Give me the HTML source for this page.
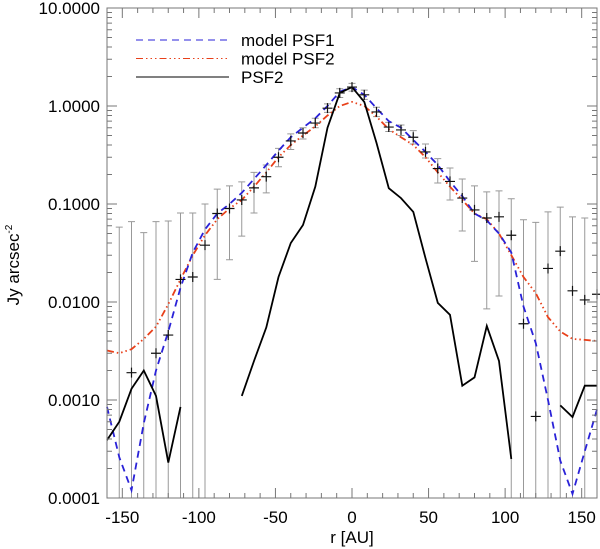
<!DOCTYPE html>
<html><head><meta charset="utf-8"><style>
html,body{margin:0;padding:0;background:#fff;}
svg{display:block;font-family:"Liberation Sans",sans-serif;}
</style></head><body>
<svg id="chart" width="600" height="549" viewBox="0 0 600 549">
<g id="err"></g>
<g id="series"></g>
<g id="axes"></g>
<g id="legend"></g>
<text x="352" y="543" text-anchor="middle" font-size="17">r [AU]</text>
<text transform="translate(19,265) rotate(-90)" text-anchor="middle" font-size="17">Jy arcsec<tspan font-size="10" dy="-7">-2</tspan></text>
</svg>
<script>
const radii = [-160,-152,-144,-136,-128,-120,-112,-104,-96,-88,-80,-72,-64,-56,-48,-40,-32,-24,-16,-8,0,8,16,24,32,40,48,56,64,72,80,88,96,104,112,120,128,136,144,152,160];
const dataVals = [null,null,0.0019,null,0.003,0.0046,0.017,0.018,0.038,0.08,0.09,0.11,0.146,0.19,0.30,0.44,0.53,0.67,0.95,1.36,1.56,1.3,0.87,0.61,0.57,0.48,0.34,0.23,0.17,0.115,0.087,0.072,0.074,0.048,0.006,0.00068,0.022,0.033,0.013,0.0105,0.012];
const errHigh = [null,0.058,0.066,0.051,0.066,0.067,0.081,0.081,0.1,0.142,0.153,0.168,0.21,0.25,0.37,0.52,0.6,0.75,1.05,1.5,1.7,1.45,0.97,0.68,0.64,0.56,0.41,0.29,0.233,0.18,0.153,0.133,0.136,0.113,0.069,0.065,0.083,0.093,0.074,0.072,null];
const errLow = [null,0.0001,0.0001,0.0001,0.0001,0.0001,0.0001,0.0001,0.0001,0.017,0.027,0.047,0.081,0.13,0.24,0.36,0.46,0.6,0.86,1.22,1.42,1.17,0.78,0.55,0.5,0.41,0.295,0.164,0.11,0.053,0.026,0.0085,0.0115,0.0001,0.0001,0.0001,0.0001,0.0001,0.0001,0.0001,null];
const psf1Model = [0.00085,0.00026,0.00012,0.00058,0.002,0.005,0.014,0.032,0.055,0.08,0.1,0.13,0.18,0.25,0.35,0.48,0.6,0.75,1.0,1.4,1.56,1.3,0.95,0.7,0.6,0.45,0.34,0.25,0.17,0.12,0.08,0.068,0.05,0.032,0.009,0.0038,0.001,0.00024,0.00011,0.0003,0.0008];
const psf2Model = [0.0032,0.003,0.0033,0.0042,0.0056,0.0095,0.017,0.03,0.048,0.07,0.09,0.11,0.15,0.21,0.3,0.4,0.5,0.62,0.8,1.0,1.1,1.0,0.78,0.58,0.48,0.4,0.3,0.21,0.15,0.11,0.08,0.07,0.05,0.03,0.018,0.0123,0.007,0.005,0.0042,0.0041,0.004];
const psf2Obs = [0.00039,0.0006,0.0013,0.002,0.0011,0.00023,0.00085,null,null,null,null,0.0011,0.0025,0.0055,0.018,0.04,0.061,0.15,0.6,1.36,1.56,1.1,0.42,0.145,0.115,0.083,0.028,0.0098,0.0074,0.0014,0.0017,0.0057,0.0025,0.00025,null,null,null,0.00088,0.00067,0.0014,0.0014];
const xTicks = [-150,-100,-50,0,50,100,150];
const yTicks = [10,1,0.1,0.01,0.001,0.0001];
const yTickLabels = ["10.0000","1.0000","0.1000","0.0100","0.0010","0.0001"];
const legendLabels = ["model PSF1","model PSF2","PSF2"];

const L=107,R=597,T=8,B=498,xmin=-160,xmax=160,lmin=-4,lmax=1;
const X=r=>L+(r-xmin)/(xmax-xmin)*(R-L);
const Y=v=>B-(Math.log10(v)-lmin)/(lmax-lmin)*(B-T);
const NS="http://www.w3.org/2000/svg";
function mk(tag,attrs,parent){const e=document.createElementNS(NS,tag);for(const k in attrs)e.setAttribute(k,attrs[k]);parent.appendChild(e);return e;}

const gErr=document.getElementById('err');
radii.forEach((r,i)=>{
  if(errHigh[i]==null)return;
  const x=X(r),y1=Y(errHigh[i]),y2=Math.min(B,Y(errLow[i]));
  const eb=mk('path',{d:`M${x},${y1}V${y2}M${x-3.5},${y1}H${x+3.5}`+(y2<B-1?`M${x-3.5},${y2}H${x+3.5}`:''),stroke:'#999',fill:'none','stroke-width':1},gErr);
  
  
});

const gS=document.getElementById('series');
function line(vals,style,name){
  let d='',pen=false;
  radii.forEach((r,i)=>{const v=vals[i];if(v==null){pen=false;return;}
    const y=Math.max(T,Math.min(B,Y(v)));d+=(pen?'L':'M')+X(r).toFixed(1)+','+y.toFixed(1);pen=true;});
  const p=mk('path',Object.assign({d,fill:'none'},style),gS);
  
  
}
line(psf2Model,{stroke:'#e8401a','stroke-width':1.8,'stroke-dasharray':'7 3 1.5 3 1.5 3 1.5 3'},'model-psf2-line');
line(psf1Model,{stroke:'#2a22d8','stroke-width':1.8,'stroke-dasharray':'7 5'},'model-psf1-line');
line(psf2Obs,{stroke:'#000','stroke-width':1.8},'psf2-line');
radii.forEach((r,i)=>{const v=dataVals[i];if(v==null)return;const x=X(r),y=Y(v);
  const c=mk('path',{d:`M${x-5},${y}H${x+5}M${x},${y-5}V${y+5}`,stroke:'#111','stroke-width':1.2},gS);
  
  
});

const gA=document.getElementById('axes');
const fr=mk('rect',{x:L,y:T,width:R-L,height:B-T,fill:'none',stroke:'#777','stroke-width':1},gA);


let td='';
for(let r=-160;r<=160;r+=10){const x=X(r);const len=(r%50===0)?10:5;td+=`M${x},${B}v${-len}M${x},${T}v${len}`;}
for(let e=lmin;e<lmax;e++){for(let m=1;m<10;m++){const y=Y(m*Math.pow(10,e));const len=m===1?10:5;td+=`M${L},${y}h${len}M${R},${y}h${-len}`;}}
const tk=mk('path',{d:td,stroke:'#777','stroke-width':1,fill:'none'},gA);


xTicks.forEach(t=>{const e=mk('text',{x:X(t),y:523,'text-anchor':'middle','font-size':17},gA);e.textContent=String(t);
  
  });
yTicks.forEach((t,i)=>{const e=mk('text',{x:100,y:Y(t)+6,'text-anchor':'end','font-size':17},gA);e.textContent=yTickLabels[i];
  
  });

const gL=document.getElementById('legend');
const lstyles=[{stroke:'#2a22d8','stroke-dasharray':'7 5'},{stroke:'#e8401a','stroke-dasharray':'7 3 1.5 3 1.5 3 1.5 3'},{stroke:'#000'}];
legendLabels.forEach((lab,i)=>{const y=40+i*18.5;
  const ln=mk('line',Object.assign({x1:136,x2:229,y1:y,y2:y,'stroke-width':1},lstyles[i]),gL);
  
  
  const t=mk('text',{x:241,y:y+6,'font-size':17},gL);t.textContent=lab;
  
  });
</script>
</body></html>
